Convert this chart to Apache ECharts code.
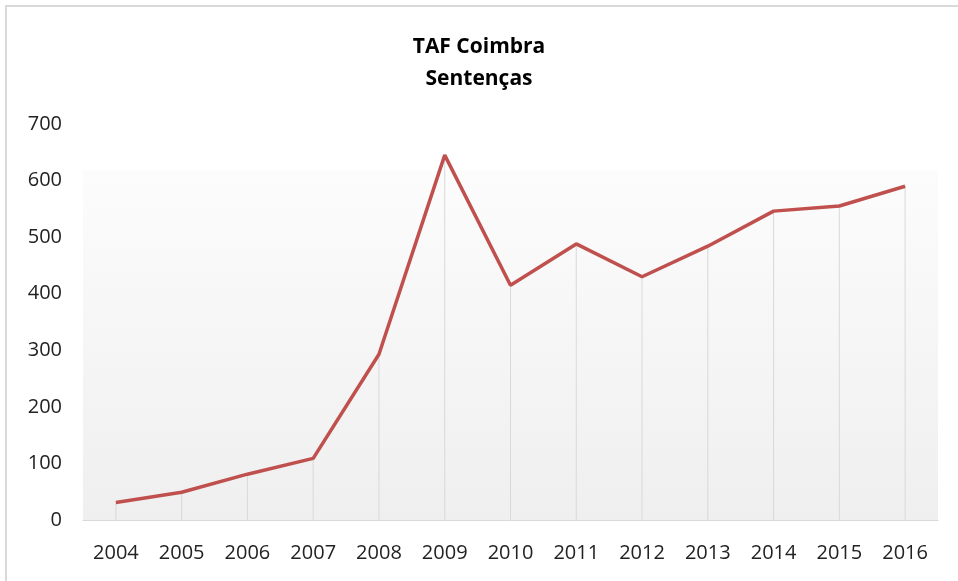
<!DOCTYPE html>
<html>
<head>
<meta charset="utf-8">
<script src="https://cdn.jsdelivr.net/npm/echarts@6/dist/echarts.min.js"></script>
<style>html,body{margin:0;padding:0;background:#fff;}#c{width:958px;height:581px;}</style>
</head>
<body>
<div id="c"></div>
<script>
const years = ['2004','2005','2006','2007','2008','2009','2010','2011','2012','2013','2014','2015','2016'];
const sentencas = [31, 49, 81, 109, 293, 645, 415, 488, 430, 484, 546, 555, 590];
const yTicks = {min: 0, max: 700, interval: 100};

const chart = echarts.init(document.getElementById('c'));
chart.setOption({
  animation: false,
  backgroundColor: '#fff',
  graphic: [{
    type: 'rect', left: 5, top: 5, z: -10,
    shape: {width: 1000, height: 620},
    style: {fill: 'transparent', stroke: '#d9d9d9', lineWidth: 2}
  }],
  title: {
    text: 'TAF Coimbra\nSentenças',
    left: 'center', top: 26,
    textStyle: {fontFamily: 'Open Sans', fontWeight: 'bold', fontSize: 21, color: '#000', lineHeight: 32}
  },
  grid: {
    left: 83, right: 20, top: 124, bottom: 61, show: true, borderWidth: 0,
    backgroundColor: {
      type: 'linear', x: 0, y: 0, x2: 0, y2: 1,
      colorStops: [
        {offset: 0, color: '#ffffff'},
        {offset: 0.115, color: '#ffffff'},
        {offset: 0.117, color: '#fcfcfc'},
        {offset: 1, color: '#efefef'}
      ]
    }
  },
  xAxis: {
    type: 'category', data: years, boundaryGap: true,
    axisLine: {lineStyle: {color: '#d9d9d9', width: 1}},
    axisTick: {show: false},
    axisLabel: {fontFamily: 'Open Sans', fontSize: 20, color: '#222', margin: 23}
  },
  yAxis: {
    type: 'value', min: yTicks.min, max: yTicks.max, interval: yTicks.interval,
    axisLine: {show: false}, axisTick: {show: false}, splitLine: {show: false},
    axisLabel: {fontFamily: 'Open Sans', fontSize: 20, color: '#222', margin: 21}
  },
  series: [
    {
      type: 'bar', data: sentencas, barWidth: 1, silent: true, z: 1,
      itemStyle: {color: '#d9d9d9'}
    },
    {
      type: 'line', data: sentencas, symbol: 'none', z: 3,
      lineStyle: {color: '#c0504d', width: 3.5}
    }
  ]
});
</script>
</body>
</html>
